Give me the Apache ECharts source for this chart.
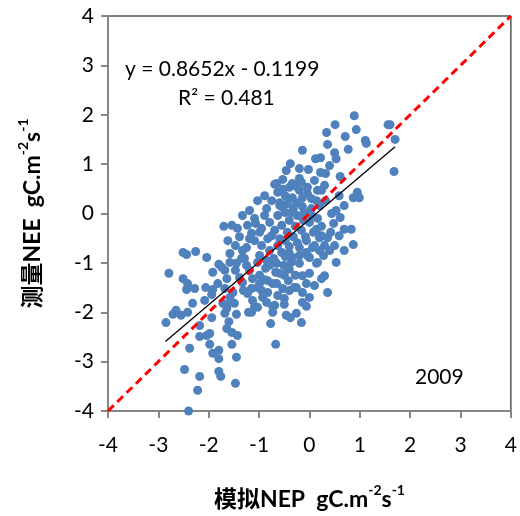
<!DOCTYPE html>
<html>
<head>
<meta charset="utf-8">
<script src="https://cdn.jsdelivr.net/npm/echarts@6/dist/echarts.min.js"></script>
<style>
html,body{margin:0;padding:0;background:#fff;}
#chart-con{width:520px;height:516px;}
</style>
</head>
<body>
<div id="chart-con"></div>
<script>
//模拟NEP (x) 与 测量NEE (y)
var simNEP = [
0.89,0.51,0.93,0.34,0.71,0.36,1.11,1.13,1.60,1.56,1.70,-0.14,0.50,0.22,0.12,0.53,0.77,-0.38,-0.02,0.22,
0.32,0.61,1.68,-0.69,-0.53,-0.20,-0.16,-0.34,-0.65,-0.40,-0.26,-0.20,-0.04,-0.53,-0.63,-0.48,-0.34,-0.14,-0.04,0.16,
0.14,-0.59,-0.44,-0.26,-0.14,-0.85,-0.53,0.99,0.95,0.87,0.53,0.61,0.69,0.83,0.87,0.48,0.42,0.36,0.20,0.14,
0.28,0.06,-0.06,-0.20,-0.48,-0.34,0.00,0.44,0.24,0.30,0.36,0.00,-0.14,-0.26,-0.50,-0.69,-0.93,-1.09,0.16,-0.04,
-0.20,-0.14,-0.40,-0.42,-0.65,-0.53,-0.83,-0.99,-1.15,-0.85,-1.03,-1.15,-0.73,-0.73,-0.50,-0.46,-0.38,-0.26,-0.06,-0.16,
-0.77,-0.67,
-2.85,-2.71,-2.65,-2.55,-2.42,-2.32,-2.08,-2.18,-2.18,-2.04,-1.98,-2.38,-1.98,-1.92,-1.80,-1.80,-1.54,-1.43,-1.64,-1.54,
-1.45,-2.48,-2.18,-1.80,-1.76,-2.22,-1.47,-2.40,-1.60,-1.45,-1.21,-1.68,-1.64,-1.94,-1.70,-1.54,-1.39,-1.15,-1.07,-2.51,
-2.44,-2.26,-2.04,-2.79,-2.51,-2.42,-2.44,-2.28,-2.06,-1.92,-1.80,-1.74,-1.68,-1.58,-1.58,-1.45,-1.35,-1.25,-1.19,-1.82,
-1.64,-1.68,-1.94,-1.58,-1.49,-1.92,-1.23,-1.03,-0.89,-0.73,-0.59,-0.44,-0.30,-0.14,-0.06,0.00,0.14,-0.06,-0.40,-0.65,
-0.85,-0.99,-1.25,-1.39,-1.52,-1.72,-1.64,
-1.09,-0.95,-0.83,-0.69,-0.55,-0.40,-0.24,-0.10,0.04,0.20,-0.95,-0.79,-0.63,-0.48,-0.32,-0.79,-0.63,-0.48,-0.32,-0.16,
0.00,0.16,-1.03,-0.87,-0.71,-0.55,-0.40,-0.24,-0.08,0.08,0.24,-0.89,-1.09,-1.23,-0.75,-0.59,-0.44,-0.28,-0.12,0.04,
-0.99,-0.83,-0.67,-0.51,-0.36,-0.20,-1.19,-1.33,-1.13,-0.95,-0.63,-0.40,-0.28,-1.33,-1.47,-1.29,0.10,0.30,0.40,0.20,
-0.50,-0.79,-0.99,-0.59,-0.36,-0.89,-0.75,-1.03,-1.19,-1.33,-1.43,-1.62,-1.47,-1.31,-1.13,0.10,0.24,0.53,0.50,0.69,
0.59,0.32,0.24,0.04,-0.20,-0.46,0.10,0.30,0.59,0.69,0.40
];
var obsNEE = [
1.98,1.80,1.70,1.64,1.56,1.40,1.48,1.42,1.80,1.80,1.50,1.28,1.23,1.13,1.11,1.11,1.30,1.01,0.89,0.83,
0.81,0.75,0.85,0.59,0.69,0.71,0.63,0.61,0.61,0.53,0.55,0.47,0.53,0.49,0.43,0.36,0.32,0.32,0.40,0.47,
0.26,0.22,0.20,0.22,0.14,0.10,0.12,0.32,0.43,0.32,0.06,-0.08,-0.32,-0.32,-0.63,-0.20,-0.38,-0.49,-0.49,-0.32,
-0.85,-0.69,-0.55,-0.69,-0.87,-0.89,-0.89,0.00,-0.45,-1.26,-1.60,-1.70,-1.80,-1.50,-1.72,-1.86,-1.70,-1.88,-0.99,-0.85,
-1.01,-1.26,-1.13,-1.36,-1.42,-1.52,-1.60,-1.42,-1.52,-1.80,-1.90,-2.00,-1.88,-2.00,-1.84,-2.06,-2.11,-2.02,-1.88,-2.21,
-2.23,-2.65,
-2.21,-2.04,-1.96,-2.06,-2.00,-1.82,-1.76,-2.27,-2.49,-2.47,-2.43,-2.73,-2.65,-2.83,-2.77,-2.94,-2.65,-2.47,-2.33,-2.41,
-2.91,-3.16,-3.30,-3.20,-3.30,-3.58,-3.44,-4.00,-2.19,-2.04,-2.00,-2.02,-1.86,-2.11,-0.26,-0.24,-0.47,-0.40,-0.20,-0.79,
-0.83,-0.77,-0.89,-1.21,-1.32,-1.42,-1.54,-1.52,-1.50,-1.19,-1.03,-1.09,-1.15,-0.81,-0.99,-1.01,-0.91,-0.69,-0.51,-1.42,
-1.32,-1.52,-1.64,-1.70,-1.82,-1.54,-1.62,-1.50,-1.34,-1.42,-1.21,-1.11,-1.50,-1.60,-1.42,-1.21,-1.01,-0.79,-0.81,-1.01,
-0.95,-0.85,-1.05,-1.30,-1.60,-1.82,-1.92,
-0.55,-0.65,-0.51,-0.34,-0.24,-0.14,-0.04,0.02,0.10,0.16,-0.30,-0.18,-0.04,0.02,0.10,-0.75,-0.65,-0.55,-0.47,-0.34,
-0.18,-0.10,-0.99,-1.11,-0.91,-0.79,-0.67,-0.59,-0.47,-0.38,-0.26,-0.04,-0.10,-0.24,-0.45,-0.51,-0.38,-0.26,-0.14,-0.04,
-1.25,-1.36,-1.19,-1.05,-0.99,-0.85,-1.15,-1.40,-1.32,-1.56,-1.66,-1.56,-1.25,-0.75,-0.65,-0.91,-0.65,-0.65,-0.75,-0.75,
-1.25,-1.05,-0.38,0.16,0.02,0.36,0.26,0.26,0.06,-0.04,-0.30,-0.55,-1.15,-1.56,-1.76,-1.46,-1.32,-0.99,-0.65,-0.75,
-0.45,0.26,0.47,0.30,0.91,0.87,0.67,0.57,0.36,0.16,0.97
];

//回归线 y = 0.8652x - 0.1199
var slope = 0.8652;
var intercept = -0.1199;
var fitRange = [-2.86, 1.70];
var oneToOne = [-4, 4];
var ticks = [-4, -3, -2, -1, 0, 1, 2, 3, 4];

var points = [];
for (var i = 0; i < simNEP.length; i++) {
    points.push([simNEP[i], obsNEE[i]]);
}
var fitLine = fitRange.map(function (x) { return [x, slope * x + intercept]; });
var refLine = oneToOne.map(function (v) { return [v, v]; });

var font = 'Lato, "Noto Sans CJK SC", sans-serif';
var nameRich = {
    b: {fontSize: 23, fontWeight: 'bold', fontFamily: font, color: '#000', lineHeight: 28, verticalAlign: 'bottom'},
    s: {fontSize: 14, fontWeight: 'bold', fontFamily: font, color: '#000', lineHeight: 28, verticalAlign: 'top'}
};

var dom = document.getElementById("chart-con");
var myChart = echarts.init(dom);

var option = {
    animation: false,
    backgroundColor: '#fff',
    grid: {
        left: 108, right: 8, top: 16, bottom: 105,
        show: true, borderColor: '#000', borderWidth: 1
    },
    xAxis: {
        type: 'value', min: ticks[0], max: ticks[ticks.length - 1], interval: 1,
        name: '{b|模拟NEP  gC.m}{s|-2}{b|s}{s|-1}',
        nameLocation: 'middle', nameGap: 72,
        nameTextStyle: {rich: nameRich},
        axisLine: {onZero: false, lineStyle: {color: '#868686', width: 2}},
        axisTick: {length: 7, lineStyle: {color: '#868686', width: 2}},
        axisLabel: {fontSize: 21, color: '#000', fontFamily: font, margin: 24},
        splitLine: {show: false}
    },
    yAxis: {
        type: 'value', min: ticks[0], max: ticks[ticks.length - 1], interval: 1,
        name: '{b|测量NEE  gC.m}{s|-2}{b|s}{s|-1}',
        nameLocation: 'middle', nameGap: 64,
        nameTextStyle: {rich: nameRich},
        axisLine: {onZero: false, lineStyle: {color: '#868686', width: 2}},
        axisTick: {length: 7, lineStyle: {color: '#868686', width: 2}},
        axisLabel: {fontSize: 21, color: '#000', fontFamily: font, margin: 14},
        splitLine: {show: false}
    },
    graphic: [
        {type: 'text', left: 125, top: 59, style: {text: 'y = 0.8652x - 0.1199', font: '21px ' + font, fill: '#000'}},
        {type: 'text', left: 178, top: 88, style: {text: 'R² = 0.481', font: '21px ' + font, fill: '#000'}},
        {type: 'text', left: 415, top: 367, style: {text: '2009', font: '21px ' + font, fill: '#000'}}
    ],
    series: [
        {
            name: '散点',
            type: 'scatter',
            data: points,
            symbolSize: 9,
            clip: false,
            itemStyle: {color: '#4F81BD', opacity: 1},
            z: 2
        },
        {
            name: '拟合线',
            type: 'line',
            data: fitLine,
            symbol: 'none',
            lineStyle: {color: '#000', width: 1.3},
            z: 3
        },
        {
            name: '1:1线',
            type: 'line',
            data: refLine,
            symbol: 'none',
            lineStyle: {color: '#FF0000', width: 3, type: [8, 5]},
            z: 4
        }
    ]
};

if (option && typeof option === 'object') {
    myChart.setOption(option);
}
</script>
</body>
</html>
